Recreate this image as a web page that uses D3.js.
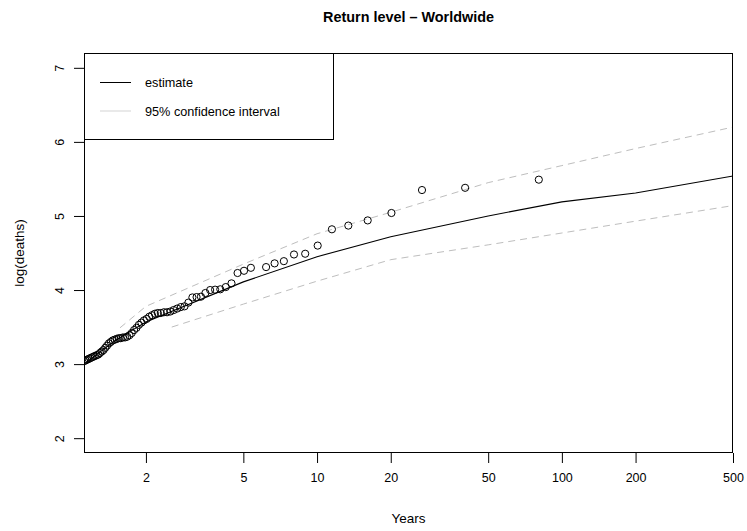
<!DOCTYPE html>
<html><head><meta charset="utf-8">
<script src="https://cdn.jsdelivr.net/npm/d3@7"></script>
<style>body{margin:0;background:#fff}svg{display:block}text{font-family:"Liberation Sans",Arial,Helvetica,sans-serif}</style>
</head><body>
<script>
// ---- data ----
const title = "Return level \u2013 Worldwide";
const xLabel = "Years";
const yLabel = "log(deaths)";
const xTicks = [2, 5, 10, 20, 50, 100, 200, 500];
const yTicks = [2, 3, 4, 5, 6, 7];
const legendLabels = ["estimate", "95% confidence interval"];

// observed points: return period (years) and log(deaths)
const obsPeriod = [80.5, 40.25, 26.83, 20.13, 16.1, 13.42, 11.5, 10.06, 8.944, 8.05,
  7.318, 6.708, 6.192, 5.367, 5.031, 4.735, 4.472, 4.237, 4.025, 3.833,
  3.659, 3.5, 3.354, 3.22, 3.096, 2.981, 2.875, 2.776, 2.683, 2.597,
  2.516, 2.439, 2.368, 2.3, 2.236, 2.176, 2.118, 2.064, 2.013, 1.963,
  1.917, 1.872, 1.83, 1.789, 1.75, 1.713, 1.677, 1.643, 1.61, 1.578,
  1.548, 1.519, 1.491, 1.464, 1.438, 1.412, 1.388, 1.364, 1.342, 1.32,
  1.298, 1.278, 1.258, 1.238, 1.22, 1.201, 1.184, 1.167, 1.15, 1.134, 1.118];
const obsLevel = [5.49, 5.38, 5.35, 5.04, 4.94, 4.87, 4.82, 4.60, 4.49, 4.48,
  4.39, 4.36, 4.31, 4.30, 4.26, 4.23, 4.09, 4.04, 4.01, 4.005,
  4.00, 3.96, 3.91, 3.905, 3.90, 3.83, 3.78, 3.77, 3.75, 3.73,
  3.71, 3.70, 3.70, 3.69, 3.69, 3.68, 3.66, 3.64, 3.61, 3.59,
  3.56, 3.53, 3.49, 3.46, 3.42, 3.39, 3.37, 3.36, 3.36, 3.35,
  3.35, 3.34, 3.33, 3.32, 3.30, 3.28, 3.25, 3.22, 3.19, 3.17,
  3.15, 3.13, 3.12, 3.11, 3.10, 3.09, 3.08, 3.07, 3.06, 3.05, 3.04];

// fitted return level curve and confidence bounds
const estPeriod = [1.117, 1.5, 2, 5, 10, 20, 50, 100, 200, 500];
const estLevel  = [3.00, 3.32, 3.57, 4.11, 4.45, 4.72, 5.00, 5.19, 5.31, 5.54];
const upPeriod  = [1.567, 2, 5, 10, 20, 50, 100, 200, 500];
const upLevel   = [3.49, 3.78, 4.35, 4.76, 5.05, 5.45, 5.68, 5.91, 6.20];
const loPeriod  = [2.55, 5, 10, 20, 50, 100, 200, 500];
const loLevel   = [3.50, 3.81, 4.12, 4.41, 4.61, 4.77, 4.93, 5.14];

const xDomain = [1.117, 500];
const yDomain = [1.8, 7.2];

// ---- drawing ----
const W = 747, H = 531;
const m = {l: 84, r: 733, t: 53, b: 453};
const svg = d3.select("body").append("svg").attr("width", W).attr("height", H);

const x = d3.scaleLog().domain(xDomain).range([m.l, m.r]);
const y = d3.scaleLinear().domain(yDomain).range([m.b, m.t]);

svg.append("defs").append("clipPath").attr("id", "clip")
  .append("rect").attr("x", m.l).attr("y", m.t).attr("width", m.r - m.l).attr("height", m.b - m.t);

const plot = svg.append("g").attr("clip-path", "url(#clip)");
const line = d3.line().x(d => x(d[0])).y(d => y(d[1]));

const grey = "#bebebe";
plot.append("path").datum(d3.zip(upPeriod, upLevel)).attr("d", line)
  .attr("fill", "none").attr("stroke", grey).attr("stroke-width", 1).attr("stroke-dasharray", "7,5");
plot.append("path").datum(d3.zip(loPeriod, loLevel)).attr("d", line)
  .attr("fill", "none").attr("stroke", grey).attr("stroke-width", 1).attr("stroke-dasharray", "7,5");
plot.append("path").datum(d3.zip(estPeriod, estLevel)).attr("d", line)
  .attr("fill", "none").attr("stroke", "#000").attr("stroke-width", 1.1);

plot.selectAll("circle").data(d3.zip(obsPeriod, obsLevel)).join("circle")
  .attr("cx", d => x(d[0])).attr("cy", d => y(d[1])).attr("r", 3.6)
  .attr("fill", "none").attr("stroke", "#000").attr("stroke-width", 1);

// axes
const xAxis = d3.axisBottom(x).tickValues(xTicks).tickFormat(d3.format("d")).tickSize(10).tickPadding(10);
const gx = svg.append("g").attr("transform", `translate(0,${m.b})`).call(xAxis);
gx.select(".domain").remove();
gx.selectAll("text").attr("font-size", 12.5).attr("font-family", "Liberation Sans, Arial, sans-serif").attr("fill", "#000");

const yAxis = d3.axisLeft(y).tickValues(yTicks).tickFormat(d3.format("d")).tickSize(10);
const gy = svg.append("g").attr("transform", `translate(${m.l},0)`).call(yAxis);
gy.select(".domain").remove();
gy.selectAll("text").attr("font-size", 12.5).attr("font-family", "Liberation Sans, Arial, sans-serif")
  .attr("fill", "#000")
  .attr("x", null).attr("dy", null)
  .attr("text-anchor", "middle")
  .attr("transform", "translate(-20,0) rotate(-90)");

svg.selectAll(".tick line").attr("stroke", "#000");

// box
svg.append("rect").attr("x", m.l + 0.5).attr("y", m.t + 0.5)
  .attr("width", m.r - m.l - 1).attr("height", m.b - m.t - 1)
  .attr("fill", "none").attr("stroke", "#000").attr("stroke-width", 1);

// labels
svg.append("text").attr("x", (m.l + m.r) / 2).attr("y", 22).attr("text-anchor", "middle")
  .attr("font-weight", "bold").attr("font-size", 14.4).text(title);
svg.append("text").attr("x", (m.l + m.r) / 2).attr("y", 523).attr("text-anchor", "middle")
  .attr("font-size", 13.5).text(xLabel);
svg.append("text").attr("transform", `translate(24,${(m.t + m.b) / 2}) rotate(-90)`).attr("text-anchor", "middle")
  .attr("font-size", 13.5).text(yLabel);

// legend
const lg = svg.append("g");
lg.append("rect").attr("x", m.l + 0.5).attr("y", m.t + 0.5).attr("width", 249).attr("height", 86)
  .attr("fill", "#fff").attr("stroke", "#000");
const rows = [{c: "#000", yy: 82.5}, {c: "#d3d3d3", yy: 111}];
rows.forEach((r, i) => {
  lg.append("line").attr("x1", 100).attr("x2", 131).attr("y1", r.yy).attr("y2", r.yy)
    .attr("stroke", r.c).attr("stroke-width", 1);
  lg.append("text").attr("x", 145).attr("y", r.yy + 4.5).attr("font-size", 12.7).text(legendLabels[i]);
});
</script>
</body></html>
